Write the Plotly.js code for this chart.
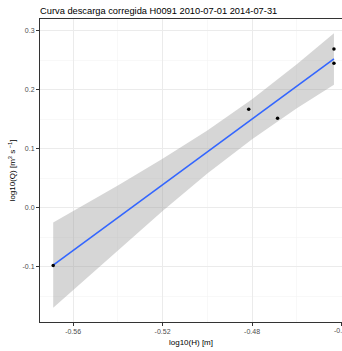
<!DOCTYPE html>
<html>
<head>
<meta charset="utf-8">
<script src="https://cdn.plot.ly/plotly-3.0.1.min.js"></script>
<style>html,body{margin:0;padding:0;background:#fff;}#chart{width:342px;height:351px;}</style>
</head>
<body>
<div id="chart"></div>
<script>
// observed points
var obsH = [-0.5689, -0.4815, -0.4686, -0.4434, -0.4434];
var obsQ = [-0.098, 0.167, 0.1515, 0.269, 0.245];
// fitted line and confidence band
var fitH = [-0.5689, -0.56, -0.54, -0.52, -0.50, -0.48, -0.46, -0.4434];
var fitQ = [-0.0977, -0.0729, -0.0171, 0.0386, 0.0944, 0.1501, 0.2059, 0.2522];
var bandUpper = [-0.025, -0.006, 0.0377, 0.0828, 0.131, 0.184, 0.2431, 0.2959];
var bandLower = [-0.170, -0.140, -0.0719, -0.0056, 0.0578, 0.116, 0.1687, 0.2085];
var xTicks = [-0.56, -0.52, -0.48];
var xTickText = ['-0.56', '-0.52', '-0.48'];
var xEdgeTick = -0.44;
var xEdgeTickText = '-0.44';
var yTicks = [-0.1, 0.0, 0.1, 0.2, 0.3];
var yTickText = ['-0.1', '0.0', '0.1', '0.2', '0.3'];

var traces = [
  {x: fitH, y: bandLower, mode: 'lines', line: {width: 0, color: 'rgba(0,0,0,0)'}, hoverinfo: 'skip', showlegend: false},
  {x: fitH, y: bandUpper, mode: 'lines', line: {width: 0, color: 'rgba(0,0,0,0)'}, fill: 'tonexty', fillcolor: 'rgba(153,153,153,0.4)', hoverinfo: 'skip', showlegend: false},
  {x: fitH, y: fitQ, mode: 'lines', line: {color: '#3366FF', width: 1.6}, showlegend: false},
  {x: obsH, y: obsQ, mode: 'markers', marker: {color: '#000000', size: 3.5}, showlegend: false}
];

var tickFont = {family: 'Liberation Sans, Arial, sans-serif', size: 7, color: '#4d4d4d'};
var axisCommon = {
  showline: true, linecolor: '#333333', linewidth: 1, mirror: true,
  showgrid: true, gridcolor: '#ebebeb', gridwidth: 1,
  zeroline: false,
  ticks: 'outside', ticklen: 3, tickcolor: '#333333', tickwidth: 1,
  tickfont: tickFont
};

var layout = {
  width: 342, height: 351,
  margin: {l: 40, r: 0, t: 19, b: 29},
  paper_bgcolor: '#ffffff', plot_bgcolor: '#ffffff',
  font: {family: 'Liberation Sans, Arial, sans-serif'},
  title: {text: 'Curva descarga corregida H0091 2010-07-01 2014-07-31', x: 0, xanchor: 'left', xref: 'paper', y: 1-11/351, yanchor: 'middle', yref: 'container', font: {size: 9.3, color: '#000000'}},
  xaxis: Object.assign({}, axisCommon, {
    range: [-0.5748, -0.4398],
    tickmode: 'array', tickvals: xTicks.concat([xEdgeTick]), ticktext: xTickText.concat(['']),
    minor: {tickmode: 'array', tickvals: [-0.58, -0.54, -0.50, -0.46], showgrid: true, gridcolor: '#f4f4f4', gridwidth: 0.6, ticks: ''},
    title: {text: 'log10(H) [m]', standoff: 4, font: {size: 8, color: '#000000'}}
  }),
  yaxis: Object.assign({}, axisCommon, {
    range: [-0.194, 0.320],
    tickmode: 'array', tickvals: yTicks, ticktext: yTickText,
    minor: {tickmode: 'array', tickvals: [-0.15, -0.05, 0.05, 0.15, 0.25], showgrid: true, gridcolor: '#f4f4f4', gridwidth: 0.6, ticks: ''},
    title: {text: 'log10(Q) [m<sup>3</sup> s<sup> −1</sup>]', standoff: 5, font: {size: 8, color: '#000000'}}
  }),
  annotations: [
    {x: xEdgeTick, xref: 'x', y: 0, yref: 'paper', yanchor: 'top', yshift: -3, xanchor: 'center', text: xEdgeTickText, showarrow: false, font: tickFont}
  ]
};

Plotly.newPlot('chart', traces, layout, {displayModeBar: false, staticPlot: true});
</script>
</body>
</html>
